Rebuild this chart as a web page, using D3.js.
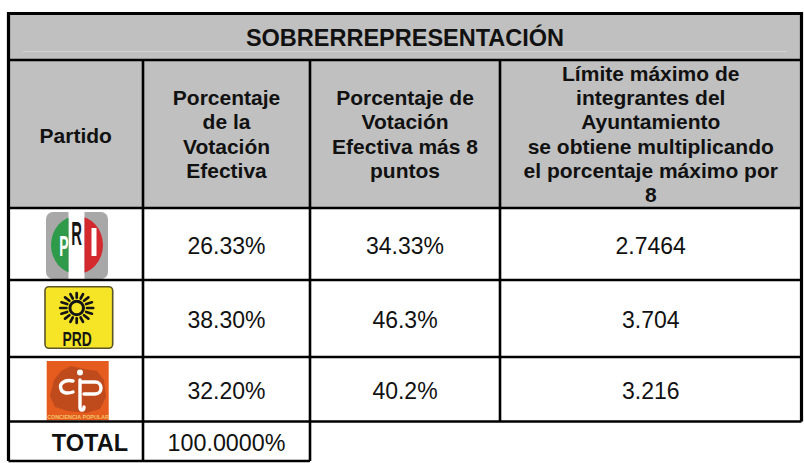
<!DOCTYPE html>
<html>
<head>
<meta charset="utf-8">
<script src="https://cdn.jsdelivr.net/npm/d3@7"></script>
<style>
  html, body { margin: 0; padding: 0; background: #fff; }
  svg { display: block; font-family: "Liberation Sans", Arial, sans-serif; }
</style>
</head>
<body>
<div id="chart"></div>
<script>
// table contents
const titulo = "SOBRERREPRESENTACIÓN";
const encabezados = [
  ["Partido"],
  ["Porcentaje", "de la", "Votación", "Efectiva"],
  ["Porcentaje de", "Votación", "Efectiva más 8", "puntos"],
  ["Límite máximo de", "integrantes del", "Ayuntamiento", "se obtiene multiplicando", "el porcentaje máximo por", "8"]
];
const partidos = ["PRI", "PRD", "CP"];
const votacion = ["26.33%", "38.30%", "32.20%"];
const votacionMas8 = ["34.33%", "46.3%", "40.2%"];
const limite = ["2.7464", "3.704", "3.216"];
const total = ["TOTAL", "100.0000%"];

const W = 804, H = 463;
const svg = d3.select("#chart").append("svg").attr("width", W).attr("height", H);

// column / row edges
const x = d3.scaleOrdinal().domain([0, 1, 2, 3, 4]).range([8.5, 143, 310, 500, 801.5]);
const bordes = ["top", "titulo", "enc", "PRI", "PRD", "CP", "total"];
const y = d3.scaleOrdinal().domain(bordes).range([13.5, 60, 208, 280, 357, 421.5, 461]);
const yTop = k => y(bordes[bordes.indexOf(k) - 1]);
const cx = i => (x(i) + x(i + 1)) / 2;
const cy = k => (yTop(k) + y(k)) / 2;

// gray header background
svg.append("rect").attr("x", x(0)).attr("y", y("top"))
  .attr("width", x(4) - x(0)).attr("height", y("enc") - y("top"))
  .attr("fill", "#c0c0c0");
svg.append("line").attr("x1", 23).attr("x2", 787).attr("y1", 51.5).attr("y2", 51.5)
  .attr("stroke", "#d2d2d2").attr("stroke-width", 1);

// title
svg.append("text").attr("x", (x(0) + x(4)) / 2).attr("y", 46)
  .attr("text-anchor", "middle").attr("font-size", 23.5).attr("font-weight", "bold")
  .attr("fill", "#111").text(titulo);

// column headers
const lh = 24.3;
const shift = [1, 0, 0, 0];
encabezados.forEach((lineas, i) => {
  const first = cy("enc") + 7.5 - (lineas.length - 1) / 2 * lh + shift[i];
  const t = svg.append("text").attr("text-anchor", "middle")
    .attr("font-size", 21).attr("font-weight", "bold").attr("fill", "#111");
  lineas.forEach((s, j) => {
    t.append("tspan").attr("x", cx(i)).attr("y", first + j * lh).text(s);
  });
});

// values
const columnas = [votacion, votacionMas8, limite];
partidos.forEach((p, r) => {
  columnas.forEach((col, c) => {
    svg.append("text").attr("x", cx(c + 1)).attr("y", cy(p) + 9.8)
      .attr("text-anchor", "middle").attr("font-size", 23).attr("fill", "#111")
      .text(col[r]);
  });
});
svg.append("text").attr("x", 128).attr("y", cy("total") + 9.6)
  .attr("text-anchor", "end").attr("font-size", 23.5).attr("font-weight", "bold")
  .attr("fill", "#111").text(total[0]);
svg.append("text").attr("x", cx(1)).attr("y", cy("total") + 9.6)
  .attr("text-anchor", "middle").attr("font-size", 23.3).attr("fill", "#111")
  .text(total[1]);

// logos
const logos = svg.append("g");
// narrow letter: x = centre, y = baseline
function letra(g, s, lx, ly, size, sx, fill) {
  g.append("text").attr("transform", `translate(${lx},${ly}) scale(${sx},1)`)
    .attr("text-anchor", "middle").attr("font-size", size).attr("font-weight", "bold")
    .attr("fill", fill).text(s);
}
function logoPRI(g, ox, oy) {
  const gg = g.append("g").attr("transform", `translate(${ox - 77},${oy - 245})`);
  const defs = svg.append("defs");
  defs.append("clipPath").attr("id", "priClip")
    .append("ellipse").attr("cx", 77).attr("cy", 245).attr("rx", 26).attr("ry", 29);
  gg.append("rect").attr("x", 46).attr("y", 212).attr("width", 62).attr("height", 67)
    .attr("rx", 7).attr("fill", "#a8a8a8");
  gg.append("rect").attr("x", 68.5).attr("y", 212).attr("width", 16).attr("height", 67).attr("fill", "#fff");
  const c = gg.append("g").attr("clip-path", "url(#priClip)");
  c.append("rect").attr("x", 46).attr("y", 212).attr("width", 22.5).attr("height", 67).attr("fill", "#2f9a4a");
  c.append("rect").attr("x", 84.5).attr("y", 212).attr("width", 24).attr("height", 67).attr("fill", "#d42a2e");
  letra(gg, "P", 64, 256, 29, 0.48, "#fff");
  letra(gg, "R", 76.7, 245, 33, 0.45, "#151515");
  gg.append("rect").attr("x", 91.5).attr("y", 228).attr("width", 5).attr("height", 28).attr("fill", "#fff");
}
function logoPRD(g, ox, oy) {
  const gg = g.append("g").attr("transform", `translate(${ox - 79},${oy - 318.5})`);
  gg.append("rect").attr("x", 45).attr("y", 286.7).attr("width", 67.7).attr("height", 61.6)
    .attr("rx", 4).attr("fill", "#f5e526").attr("stroke", "#5c5426").attr("stroke-width", 1.6);
  const sx = 76.7, sy = 308;
  gg.append("circle").attr("cx", sx).attr("cy", sy).attr("r", 6.8)
    .attr("fill", "none").attr("stroke", "#151515").attr("stroke-width", 3);
  d3.range(16).forEach(k => {
    const a = k / 16 * 2 * Math.PI;
    gg.append("line")
      .attr("x1", sx + Math.cos(a) * 10.3).attr("y1", sy + Math.sin(a) * 10.3)
      .attr("x2", sx + Math.cos(a) * 16.5).attr("y2", sy + Math.sin(a) * 15)
      .attr("stroke", "#151515").attr("stroke-width", 2.7).attr("stroke-linecap", "round");
  });
  letra(gg, "PRD", 77.2, 346, 21, 0.66, "#151515");
}
function logoCP(g, ox, oy) {
  const gg = g.append("g").attr("transform", `translate(${ox - 77.7},${oy - 389.25})`);
  gg.append("rect").attr("x", 46.7).attr("y", 361).attr("width", 62).attr("height", 59.3).attr("fill", "#e65c1e");
  gg.append("polygon")
    .attr("points", "50,396 54,380 61,371 71,366 84,369 97,371 104,380 106,397 100,409 86,413 68,411 55,407")
    .attr("fill", "#bf4a1c");
  gg.append("circle").attr("cx", 80).attr("cy", 372.5).attr("r", 3).attr("fill", "#fff");
  gg.append("path").attr("d", "M73,381 C64,379 59,384 61,389 C62,393 67,394 73,392")
    .attr("fill", "none").attr("stroke", "#fff").attr("stroke-width", 3.4).attr("stroke-linecap", "round");
  gg.append("path").attr("d", "M80,380 L80,407 C80,411 84,411 84,407 M80,382 L95,382 C103,382 103,394 95,394 L84,394")
    .attr("fill", "none").attr("stroke", "#fff").attr("stroke-width", 3.4).attr("stroke-linecap", "round");
  letra(gg, "CONCIENCIA POPULAR", 78, 418.5, 6, 0.9, "#f2c36a");
}
logoPRI(logos, 77, cy("PRI") + 1);
logoPRD(logos, 79, cy("PRD"));
logoCP(logos, 77.7, cy("CP"));

// grid lines
const grid = svg.append("g").attr("stroke", "#000").attr("fill", "none");
[["titulo", 0, 4], ["enc", 0, 4], ["PRI", 0, 4], ["PRD", 0, 4], ["CP", 0, 4], ["total", 0, 2]].forEach(([k, a, b]) => {
  grid.append("line").attr("x1", x(a)).attr("x2", x(b)).attr("y1", y(k)).attr("y2", y(k))
    .attr("stroke-width", k === "total" ? 2.5 : 2.6);
});
[[1, "titulo", "total"], [2, "titulo", "total"], [3, "titulo", "CP"]].forEach(([i, a, b]) => {
  grid.append("line").attr("x1", x(i)).attr("x2", x(i)).attr("y1", y(a)).attr("y2", y(b))
    .attr("stroke-width", 2.6);
});
// outer frame
grid.append("path")
  .attr("d", `M${x(0)},${y("total")} L${x(0)},${y("top")} L${x(4)},${y("top")} L${x(4)},${y("CP")}`)
  .attr("stroke-width", 3.2);
</script>
</body>
</html>
